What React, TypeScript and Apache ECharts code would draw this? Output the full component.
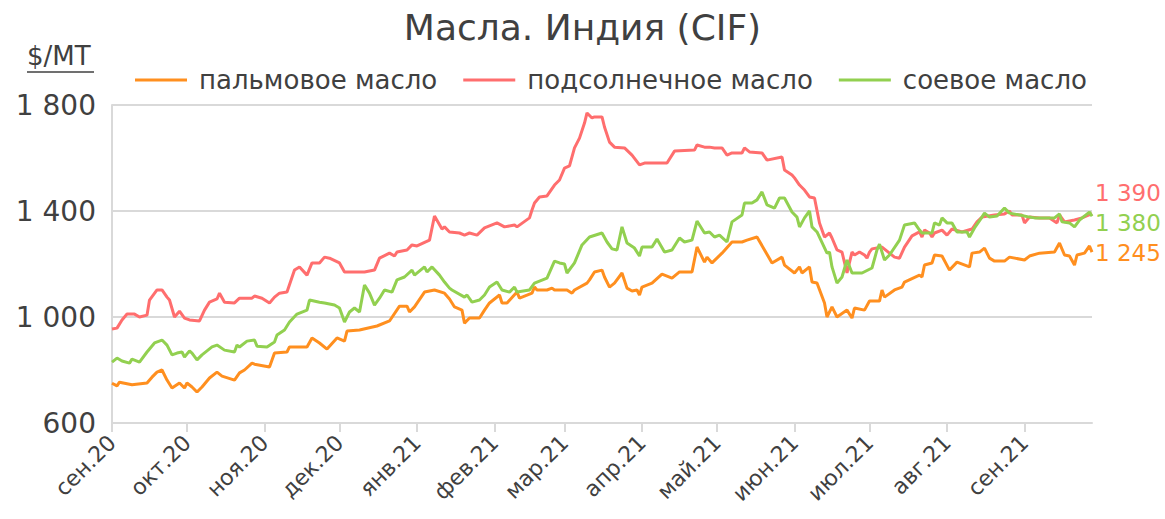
import React, { useEffect, useRef } from "react";
import * as echarts from "echarts";

const TITLE = "Масла. Индия (CIF)";
const UNIT = "$/MT";
const seriesNames = ["пальмовое масло", "подсолнечное масло", "соевое масло"];
const seriesColors = ["#FF8F1F", "#FF6E6E", "#92D050"];
const monthLabels = [
  "сен.20", "окт.20", "ноя.20", "дек.20", "янв.21", "фев.21", "мар.21",
  "апр.21", "май.21", "июн.21", "июл.21", "авг.21", "сен.21",
];
const yTicks = { min: 600, max: 1800, interval: 400 };
const firstDay = "2020-09-01";
const lastDay = "2021-09-28";

const palmOil: [string, number][] = [
  ["2020-09-01", 750], ["2020-09-03", 740], ["2020-09-04", 754], ["2020-09-09", 744],
  ["2020-09-15", 751], ["2020-09-17", 773], ["2020-09-19", 792], ["2020-09-21", 800],
  ["2020-09-23", 762], ["2020-09-25", 732], ["2020-09-28", 751], ["2020-09-30", 732],
  ["2020-10-01", 751], ["2020-10-03", 736], ["2020-10-05", 717], ["2020-10-07", 736],
  ["2020-10-10", 770], ["2020-10-13", 792], ["2020-10-15", 777], ["2020-10-20", 762],
  ["2020-10-22", 789], ["2020-10-24", 800], ["2020-10-27", 826], ["2020-10-28", 822],
  ["2020-11-03", 811], ["2020-11-05", 864], ["2020-11-10", 868], ["2020-11-11", 887],
  ["2020-11-18", 887], ["2020-11-20", 921], ["2020-11-23", 902], ["2020-11-26", 879],
  ["2020-11-30", 921], ["2020-12-03", 909], ["2020-12-04", 947], ["2020-12-09", 951],
  ["2020-12-16", 966], ["2020-12-21", 985], ["2020-12-25", 1041], ["2020-12-28", 1041],
  ["2020-12-29", 1019], ["2020-12-31", 1038], ["2021-01-04", 1094], ["2021-01-08", 1102],
  ["2021-01-12", 1090], ["2021-01-14", 1068], ["2021-01-16", 1038], ["2021-01-19", 1026],
  ["2021-01-20", 977], ["2021-01-22", 996], ["2021-01-26", 996], ["2021-01-28", 1026],
  ["2021-01-30", 1053], ["2021-02-03", 1083], ["2021-02-04", 1053], ["2021-02-06", 1053],
  ["2021-02-10", 1094], ["2021-02-11", 1071], ["2021-02-16", 1090], ["2021-02-17", 1113],
  ["2021-02-18", 1102], ["2021-02-22", 1102], ["2021-02-24", 1109], ["2021-02-25", 1102],
  ["2021-03-02", 1102], ["2021-03-04", 1090], ["2021-03-05", 1102], ["2021-03-10", 1128],
  ["2021-03-11", 1140], ["2021-03-13", 1170], ["2021-03-16", 1177], ["2021-03-17", 1151],
  ["2021-03-19", 1113], ["2021-03-21", 1128], ["2021-03-24", 1166], ["2021-03-26", 1109],
  ["2021-03-28", 1098], ["2021-03-30", 1102], ["2021-03-31", 1083], ["2021-04-01", 1113],
  ["2021-04-05", 1128], ["2021-04-09", 1162], ["2021-04-13", 1147], ["2021-04-16", 1170],
  ["2021-04-21", 1170], ["2021-04-23", 1264], ["2021-04-26", 1207], ["2021-04-27", 1226],
  ["2021-04-29", 1204], ["2021-05-03", 1241], ["2021-05-07", 1283], ["2021-05-11", 1283],
  ["2021-05-13", 1290], ["2021-05-17", 1302], ["2021-05-20", 1253], ["2021-05-23", 1204],
  ["2021-05-27", 1226], ["2021-05-28", 1196], ["2021-06-01", 1166], ["2021-06-03", 1189],
  ["2021-06-04", 1166], ["2021-06-07", 1189], ["2021-06-08", 1132], ["2021-06-10", 1128],
  ["2021-06-13", 1053], ["2021-06-14", 1000], ["2021-06-16", 1038], ["2021-06-18", 1000],
  ["2021-06-22", 1026], ["2021-06-24", 996], ["2021-06-25", 1034], ["2021-06-29", 1026],
  ["2021-07-01", 1060], ["2021-07-05", 1060], ["2021-07-06", 1102], ["2021-07-07", 1075],
  ["2021-07-11", 1102], ["2021-07-14", 1113], ["2021-07-15", 1132], ["2021-07-21", 1158],
  ["2021-07-22", 1151], ["2021-07-23", 1196], ["2021-07-26", 1204], ["2021-07-27", 1234],
  ["2021-07-30", 1230], ["2021-08-02", 1177], ["2021-08-05", 1207], ["2021-08-10", 1189],
  ["2021-08-11", 1241], ["2021-08-14", 1245], ["2021-08-16", 1260], ["2021-08-18", 1222],
  ["2021-08-20", 1211], ["2021-08-24", 1211], ["2021-08-26", 1226], ["2021-09-01", 1215],
  ["2021-09-03", 1230], ["2021-09-07", 1241], ["2021-09-13", 1245], ["2021-09-15", 1279],
  ["2021-09-17", 1234], ["2021-09-19", 1230], ["2021-09-21", 1196], ["2021-09-22", 1234],
  ["2021-09-25", 1241], ["2021-09-27", 1268], ["2021-09-28", 1245],
];

const sunflowerOil: [string, number][] = [
  ["2020-09-01", 955], ["2020-09-03", 958], ["2020-09-05", 989], ["2020-09-07", 1011],
  ["2020-09-10", 1011], ["2020-09-12", 1000], ["2020-09-15", 1007], ["2020-09-16", 1064],
  ["2020-09-19", 1102], ["2020-09-21", 1102], ["2020-09-23", 1075], ["2020-09-24", 1064],
  ["2020-09-26", 1000], ["2020-09-28", 1022], ["2020-09-30", 996], ["2020-10-02", 989],
  ["2020-10-06", 985], ["2020-10-08", 1026], ["2020-10-10", 1056], ["2020-10-13", 1068],
  ["2020-10-14", 1090], ["2020-10-16", 1056], ["2020-10-20", 1053], ["2020-10-22", 1071],
  ["2020-10-27", 1071], ["2020-10-28", 1079], ["2020-10-31", 1071], ["2020-11-03", 1053],
  ["2020-11-05", 1075], ["2020-11-07", 1090], ["2020-11-10", 1094], ["2020-11-13", 1177],
  ["2020-11-15", 1189], ["2020-11-18", 1158], ["2020-11-20", 1204], ["2020-11-23", 1204],
  ["2020-11-25", 1226], ["2020-11-27", 1222], ["2020-12-01", 1204], ["2020-12-03", 1170],
  ["2020-12-11", 1170], ["2020-12-15", 1177], ["2020-12-17", 1222], ["2020-12-21", 1241],
  ["2020-12-23", 1230], ["2020-12-24", 1245], ["2020-12-28", 1253], ["2020-12-30", 1272],
  ["2021-01-01", 1268], ["2021-01-06", 1290], ["2021-01-08", 1381], ["2021-01-11", 1332],
  ["2021-01-12", 1340], ["2021-01-14", 1321], ["2021-01-18", 1317], ["2021-01-20", 1309],
  ["2021-01-22", 1317], ["2021-01-25", 1309], ["2021-01-28", 1336], ["2021-02-02", 1355],
  ["2021-02-05", 1340], ["2021-02-09", 1347], ["2021-02-10", 1340], ["2021-02-15", 1374],
  ["2021-02-16", 1404], ["2021-02-17", 1430], ["2021-02-19", 1453], ["2021-02-22", 1457],
  ["2021-02-25", 1498], ["2021-02-27", 1517], ["2021-03-01", 1562], ["2021-03-03", 1570],
  ["2021-03-05", 1638], ["2021-03-07", 1675], ["2021-03-09", 1732], ["2021-03-10", 1770],
  ["2021-03-12", 1751], ["2021-03-13", 1755], ["2021-03-16", 1755], ["2021-03-17", 1717],
  ["2021-03-19", 1660], ["2021-03-21", 1641], ["2021-03-25", 1638], ["2021-03-28", 1611],
  ["2021-03-31", 1574], ["2021-04-02", 1581], ["2021-04-06", 1581], ["2021-04-11", 1581],
  ["2021-04-14", 1626], ["2021-04-22", 1630], ["2021-04-23", 1649], ["2021-04-26", 1641],
  ["2021-04-28", 1641], ["2021-04-30", 1638], ["2021-05-03", 1638], ["2021-05-05", 1611],
  ["2021-05-07", 1619], ["2021-05-11", 1619], ["2021-05-12", 1638], ["2021-05-14", 1623],
  ["2021-05-19", 1619], ["2021-05-21", 1592], ["2021-05-27", 1604], ["2021-05-28", 1555],
  ["2021-05-31", 1536], ["2021-06-01", 1525], ["2021-06-03", 1498], ["2021-06-05", 1479],
  ["2021-06-07", 1453], ["2021-06-09", 1449], ["2021-06-11", 1355], ["2021-06-13", 1302],
  ["2021-06-15", 1317], ["2021-06-16", 1298], ["2021-06-18", 1253], ["2021-06-20", 1245],
  ["2021-06-22", 1166], ["2021-06-24", 1245], ["2021-06-25", 1234], ["2021-06-27", 1245],
  ["2021-06-29", 1234], ["2021-06-30", 1222], ["2021-07-01", 1245], ["2021-07-02", 1257],
  ["2021-07-06", 1264], ["2021-07-09", 1241], ["2021-07-11", 1226], ["2021-07-13", 1222],
  ["2021-07-15", 1264], ["2021-07-18", 1306], ["2021-07-21", 1321], ["2021-07-22", 1302],
  ["2021-07-23", 1328], ["2021-07-25", 1317], ["2021-07-26", 1302], ["2021-07-27", 1317],
  ["2021-07-30", 1328], ["2021-08-01", 1309], ["2021-08-03", 1332], ["2021-08-07", 1321],
  ["2021-08-11", 1332], ["2021-08-13", 1359], ["2021-08-15", 1377], ["2021-08-20", 1385],
  ["2021-08-24", 1389], ["2021-08-26", 1400], ["2021-08-27", 1385], ["2021-08-31", 1385],
  ["2021-09-01", 1355], ["2021-09-03", 1377], ["2021-09-07", 1374], ["2021-09-11", 1374],
  ["2021-09-14", 1355], ["2021-09-15", 1385], ["2021-09-17", 1359], ["2021-09-21", 1366],
  ["2021-09-24", 1374], ["2021-09-28", 1390],
];

const soybeanOil: [string, number][] = [
  ["2020-09-01", 830], ["2020-09-03", 845], ["2020-09-05", 834], ["2020-09-08", 826],
  ["2020-09-09", 841], ["2020-09-12", 830], ["2020-09-15", 868], ["2020-09-18", 902],
  ["2020-09-21", 913], ["2020-09-23", 894], ["2020-09-25", 857], ["2020-09-27", 864],
  ["2020-09-29", 868], ["2020-09-30", 849], ["2020-10-02", 872], ["2020-10-03", 864],
  ["2020-10-05", 838], ["2020-10-07", 857], ["2020-10-11", 887], ["2020-10-13", 894],
  ["2020-10-16", 875], ["2020-10-20", 868], ["2020-10-21", 894], ["2020-10-22", 887],
  ["2020-10-25", 909], ["2020-10-28", 913], ["2020-10-29", 890], ["2020-11-02", 887],
  ["2020-11-05", 906], ["2020-11-06", 932], ["2020-11-09", 951], ["2020-11-11", 981],
  ["2020-11-14", 1011], ["2020-11-18", 1026], ["2020-11-19", 1064], ["2020-11-23", 1056],
  ["2020-11-25", 1053], ["2020-11-29", 1045], ["2020-12-01", 1034], ["2020-12-03", 981],
  ["2020-12-05", 1019], ["2020-12-07", 1034], ["2020-12-09", 1019], ["2020-12-11", 1121],
  ["2020-12-13", 1090], ["2020-12-15", 1045], ["2020-12-17", 1071], ["2020-12-19", 1102],
  ["2020-12-22", 1094], ["2020-12-24", 1140], ["2020-12-27", 1151], ["2020-12-30", 1177],
  ["2020-12-31", 1158], ["2021-01-04", 1189], ["2021-01-05", 1170], ["2021-01-07", 1189],
  ["2021-01-10", 1158], ["2021-01-12", 1132], ["2021-01-14", 1109], ["2021-01-15", 1102],
  ["2021-01-20", 1075], ["2021-01-21", 1083], ["2021-01-23", 1056], ["2021-01-26", 1064],
  ["2021-01-28", 1083], ["2021-01-30", 1113], ["2021-02-02", 1132], ["2021-02-04", 1102],
  ["2021-02-07", 1094], ["2021-02-09", 1113], ["2021-02-10", 1094], ["2021-02-15", 1102],
  ["2021-02-17", 1128], ["2021-02-22", 1147], ["2021-02-25", 1211], ["2021-02-27", 1204],
  ["2021-03-01", 1200], ["2021-03-02", 1166], ["2021-03-05", 1204], ["2021-03-08", 1272],
  ["2021-03-11", 1302], ["2021-03-16", 1317], ["2021-03-18", 1283], ["2021-03-20", 1257],
  ["2021-03-22", 1253], ["2021-03-24", 1340], ["2021-03-26", 1279], ["2021-03-29", 1260],
  ["2021-03-31", 1230], ["2021-04-01", 1264], ["2021-04-05", 1264], ["2021-04-07", 1294],
  ["2021-04-10", 1245], ["2021-04-13", 1253], ["2021-04-16", 1298], ["2021-04-18", 1283],
  ["2021-04-21", 1290], ["2021-04-23", 1362], ["2021-04-26", 1317], ["2021-04-28", 1321],
  ["2021-04-30", 1302], ["2021-05-02", 1309], ["2021-05-05", 1283], ["2021-05-07", 1359],
  ["2021-05-11", 1385], ["2021-05-12", 1430], ["2021-05-15", 1430], ["2021-05-17", 1442],
  ["2021-05-19", 1472], ["2021-05-21", 1423], ["2021-05-24", 1411], ["2021-05-26", 1449],
  ["2021-05-28", 1449], ["2021-05-31", 1396], ["2021-06-02", 1377], ["2021-06-03", 1340],
  ["2021-06-05", 1374], ["2021-06-07", 1400], ["2021-06-08", 1340], ["2021-06-10", 1321],
  ["2021-06-14", 1241], ["2021-06-15", 1245], ["2021-06-16", 1189], ["2021-06-18", 1128],
  ["2021-06-20", 1151], ["2021-06-22", 1215], ["2021-06-24", 1166], ["2021-06-28", 1166],
  ["2021-07-02", 1185], ["2021-07-04", 1253], ["2021-07-05", 1275], ["2021-07-07", 1215],
  ["2021-07-09", 1234], ["2021-07-13", 1290], ["2021-07-15", 1347], ["2021-07-19", 1355],
  ["2021-07-21", 1328], ["2021-07-22", 1317], ["2021-07-26", 1317], ["2021-07-27", 1355],
  ["2021-07-29", 1347], ["2021-07-30", 1374], ["2021-08-01", 1355], ["2021-08-03", 1355],
  ["2021-08-05", 1321], ["2021-08-09", 1321], ["2021-08-10", 1302], ["2021-08-12", 1336],
  ["2021-08-15", 1377], ["2021-08-16", 1392], ["2021-08-18", 1377], ["2021-08-21", 1381],
  ["2021-08-24", 1411], ["2021-08-26", 1392], ["2021-08-30", 1385], ["2021-09-03", 1377],
  ["2021-09-05", 1374], ["2021-09-13", 1374], ["2021-09-15", 1389], ["2021-09-16", 1359],
  ["2021-09-19", 1355], ["2021-09-21", 1340], ["2021-09-23", 1366], ["2021-09-27", 1396],
  ["2021-09-28", 1380],
];

const seriesData = [palmOil, sunflowerOil, soybeanOil];
const endLabelOffsets: [number, number][] = [[0, 1], [0, -21], [0, 7]];

const FONT = "DejaVu Sans";
const TEXT_COLOR = "#404040";
const GRID_COLOR = "#D9D9D9";

function buildDays(from: string, to: string): string[] {
  const out: string[] = [];
  const start = Date.parse(from + "T00:00:00Z");
  const end = Date.parse(to + "T00:00:00Z");
  for (let t = start; t <= end; t += 86400000) {
    out.push(new Date(t).toISOString().slice(0, 10));
  }
  return out;
}

function fmtNum(v: number): string {
  const s = String(Math.round(v));
  return s.replace(/\B(?=(\d{3})+(?!\d))/g, " ");
}

function isMonthStart(_i: number, value: string): boolean {
  return value.slice(8, 10) === "01";
}

function monthLabel(value: string): string {
  const y = Number(value.slice(0, 4));
  const m = Number(value.slice(5, 7));
  const idx = (y - 2020) * 12 + (m - 9);
  return monthLabels[idx] ?? "";
}

export default function App() {
  const ref = useRef<HTMLDivElement>(null);

  useEffect(() => {
    if (!ref.current) return;
    const chart = echarts.init(ref.current, undefined, { renderer: "svg" });
    const days = buildDays(firstDay, lastDay);

    chart.setOption({
      animation: false,
      backgroundColor: "#ffffff",
      textStyle: { fontFamily: FONT },
      title: {
        text: TITLE,
        left: "center",
        top: 4,
        textStyle: { fontFamily: FONT, fontSize: 36, fontWeight: "normal", color: TEXT_COLOR },
      },
      legend: {
        left: 130,
        top: 62,
        icon: "rect",
        itemWidth: 52,
        itemHeight: 3,
        itemGap: 26,
        data: seriesNames,
        textStyle: { fontFamily: FONT, fontSize: 26, color: TEXT_COLOR, padding: [0, 0, 0, 7] },
      },
      graphic: [
        {
          type: "text",
          left: 27,
          top: 43,
          style: { text: UNIT, fontFamily: FONT, fontSize: 26, fill: TEXT_COLOR },
        },
        {
          type: "line",
          shape: { x1: 27, y1: 72, x2: 94, y2: 72 },
          style: { stroke: TEXT_COLOR, lineWidth: 1.5 },
        },
      ],
      grid: { left: 112, right: 73, top: 105, bottom: 96, containLabel: false },
      xAxis: {
        type: "category",
        data: days,
        boundaryGap: false,
        axisLine: { show: true, lineStyle: { color: GRID_COLOR, width: 2 } },
        axisTick: { show: true, interval: isMonthStart, length: 9, lineStyle: { color: GRID_COLOR, width: 2 } },
        axisLabel: {
          show: true,
          interval: isMonthStart,
          rotate: 45,
          margin: 16,
          fontFamily: FONT,
          fontSize: 22,
          color: TEXT_COLOR,
          formatter: (v: string) => monthLabel(v),
        },
        splitLine: { show: false },
      },
      yAxis: {
        type: "value",
        min: yTicks.min,
        max: yTicks.max,
        interval: yTicks.interval,
        axisLine: { show: true, lineStyle: { color: GRID_COLOR, width: 2 } },
        axisTick: { show: false },
        axisLabel: {
          margin: 16,
          fontFamily: FONT,
          fontSize: 28,
          color: TEXT_COLOR,
          formatter: (v: number) => fmtNum(v),
        },
        splitLine: { show: true, lineStyle: { color: GRID_COLOR, width: 2 } },
      },
      series: seriesNames.map((name, i) => ({
        name,
        type: "line",
        data: seriesData[i],
        showSymbol: false,
        symbol: "none",
        color: seriesColors[i],
        lineStyle: { color: seriesColors[i], width: 3 },
        endLabel: {
          show: true,
          distance: 3,
          offset: endLabelOffsets[i],
          fontFamily: FONT,
          fontSize: 23,
          color: seriesColors[i],
          formatter: (p: any) => fmtNum(Array.isArray(p.value) ? p.value[1] : p.value),
        },
      })),
    });

    return () => chart.dispose();
  }, []);

  return (
    <div
      ref={ref}
      style={{ position: "fixed", left: 0, top: 0, width: 1165, height: 519, background: "#fff" }}
    />
  );
}
